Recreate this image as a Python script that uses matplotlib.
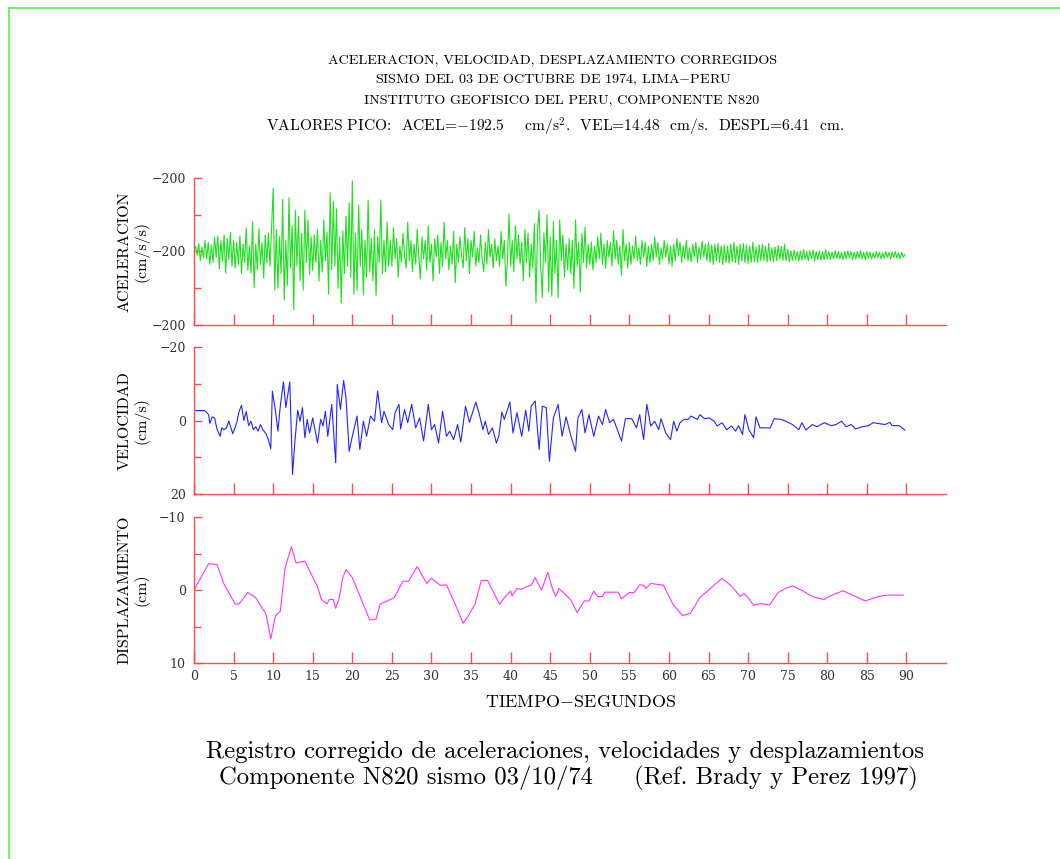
import numpy as np
import matplotlib
matplotlib.use("Agg")
import matplotlib.pyplot as plt
from matplotlib.lines import Line2D

plt.rcParams['mathtext.fontset'] = 'cm'
plt.rcParams['axes.unicode_minus'] = False

# aceleracion, muestreada cada 0.2 s (cm/s/s), eje invertido
dt_acel = 0.2
acel = [
    0, -15, 10, -22, 25, -12, 18, -30, 20, -25, 35, -18, 30, -38, 15, -42, 48, -30, 25, -45, 58, -35, 22, -52, 40,
    -30, 45, -25, 35, -42, 60, -20, 30, -65, 52, -15, 58, -82, 98, -20, 50, -62, 35, -25, 72, -45, 30, -50, 40, -68,
    -172, 105, -60, 100, -40, 60, -142, 132, -30, 92, -146, 45, -70, 158, -112, 40, -96, 80, -50, 105, -112, 30, -86, 62, -40,
    52, -45, 30, -60, 80, -30, 56, -86, 25, -52, 116, -160, 50, -136, 40, -116, 100, -40, 140, -56, 60, -96, 40, -132, 70,
    -192, 116, -50, 106, -126, 40, -60, 118, -30, 70, -140, 56, -36, 80, -60, 120, -40, 30, -140, 60, -30, 56, -80, 40, -30,
    40, -65, 20, -35, 70, -15, 30, -50, 10, 45, -80, 25, -30, 55, -20, 35, -60, 15, 75, -40, 20, -30, 50, -70, 30,
    -20, 80, -35, 15, -45, 60, -25, 40, -80, 20, -30, 50, -15, 35, -55, 85, -20, 30, -40, 10, 45, -65, 25, -35, 60,
    -30, 15, -55, 40, -10, 30, -45, 20, 55, -25, 35, -60, 15, -20, 45, -35, 25, -15, 40, -55, 20, -30, 95, 20, -102,
    40, -30, 55, -70, 20, -45, 35, -25, 80, -60, 30, -50, 70, -20, 45, -76, 140, -60, -112, 40, 126, -50, 30, -100, 110,
    -40, 122, -82, 60, -30, 126, -86, 25, -45, 70, -20, 50, -35, 60, -30, 100, -86, 40, -25, 110, -50, 30, -66, 45, -20,
    36, -26, 50, -15, 30, -40, 20, -50, 35, -20, 45, -30, 15, -25, 40, -56, 20, -30, 35, -15, 65, -60, 25, -20, 45,
    -25, 35, -15, 20, -42, 25, -10, 35, -30, 15, -25, 40, -15, 30, -20, 25, -40, 15, -25, 35, -10, 20, -30, 15, -20,
    35, -15, 40, -20, 25, -35, 10, -25, 30, -15, 20, -30, 25, -10, 28, -20, 15, -25, 30, -12, 20, -28, 15, -20, 25,
    -25, 30, -18, 35, -20, 25, -22, 30, -15, 35, -18, 30, -15, 32, -20, 28, -25, 30, -15, 35, -20, 25, -22, 30, -18,
    32, -15, 30, -25, 28, -12, 30, -18, 25, -20, 24, -15, 28, -22, 26, -10, 28, -12, 25, -16, 20, -14, 24, -20, 25,
    -6, 28, -2, 25, -4, 22, 0, 26, -2, 24, -5, 22, 0, 25, -2, 20, -4, 26, 0, 22, -2, 24, 0, 22, -5,
    20, 0, 22, 2, 20, -2, 18, 0, 20, 2, 22, 0, 20, -2, 18, 0, 22, 2, 20, 0, 18, -2, 20, 2, 22,
    0, 18, 2, 20, 4, 18, 0, 16, 2, 20, 4, 18, 0, 16, 2, 20, 2, 16, 0, 18, 4, 20, 2, 16, 8,
]

# velocidad (cm/s)
t_vel = [0, 1.35, 1.85, 2.0, 2.3, 2.6, 2.9, 3.3, 3.5, 3.8, 4.1, 4.4, 4.9, 5.4, 5.7, 6.0, 6.3, 6.6, 6.9, 7.2,
         7.5, 7.8, 8.1, 8.4, 8.7, 9.1, 9.4, 9.7, 9.9, 10.3, 10.6, 10.9, 11.3, 11.6, 12.1, 12.45, 12.75, 13.1, 13.4, 13.7,
         14.0, 14.3, 14.6, 15.0, 15.4, 15.6, 16.0, 16.3, 16.6, 16.9, 17.4, 17.9, 18.1, 18.5, 18.9, 19.2, 19.6, 20.0, 20.6, 20.95,
         21.4, 21.8, 22.3, 22.8, 23.2, 23.7, 24.0, 24.6, 25.1, 25.4, 25.9, 26.1, 26.6, 27.0, 27.5, 28.0, 28.5, 29.0, 29.6, 30.0,
         30.4, 30.9, 31.4, 31.9, 32.3, 32.8, 33.3, 33.7, 34.3, 34.8, 35.6, 36.0, 36.5, 36.8, 37.2, 37.7, 38.2, 38.5, 38.9, 39.2,
         39.9, 40.3, 40.8, 41.4, 41.9, 42.3, 42.6, 43.1, 43.6, 44.0, 44.5, 44.9, 45.4, 46.0, 46.5, 47.0, 47.6, 48.2, 48.5, 49.0,
         49.4, 49.9, 50.5, 51.1, 51.6, 52.0, 52.5, 53.0, 53.4, 54.0, 54.5, 55.3, 55.9, 56.3, 56.8, 57.2, 57.7, 58.2, 58.7, 59.0,
         59.6, 60.2, 60.6, 61.0, 61.4, 61.9, 62.4, 62.8, 63.6, 63.9, 64.5, 65.1, 65.7, 66.1, 66.7, 67.3, 67.9, 68.4, 68.8, 69.3,
         69.6, 70.1, 70.7, 71.0, 71.5, 72.2, 72.8, 73.3, 74.1, 74.8, 75.6, 76.4, 76.8, 77.3, 78.1, 78.7, 79.6, 80.5, 81.1, 81.8,
         82.4, 83.0, 83.6, 84.4, 85.2, 85.8, 86.4, 87.3, 87.9, 88.2, 89.1, 89.8]
vel = [-2.7, -2.7, -1.6, 0.8, -1.0, -0.7, 2.3, 4.3, 2.0, 2.5, 2.0, 0.2, 3.6, 0.6, -2.5, -4.1, 0.0, -2.5, 1.4, 0.2,
       2.5, 1.7, 2.9, 1.1, 2.5, 3.6, 5.2, 7.7, -8.0, -2.5, 2.9, -3.9, -10.5, -3.5, -10.5, 14.7, 5.6, -2.8, 0.2, -3.5,
       4.7, -0.3, 3.4, -0.7, 3.8, 6.1, -0.3, 1.5, -2.5, 4.3, -4.4, 11.5, -9.8, -3.0, -10.9, -6.2, 8.4, 4.3, -1.2, 7.9,
       0.2, 4.3, -1.2, 0.2, -8.0, 0.6, -2.5, 1.1, 2.5, -2.1, -4.4, 2.3, -3.0, 0.6, -4.4, 2.0, -0.7, 5.6, -4.4, 2.5,
       1.1, 6.1, -2.5, 4.3, 2.9, 5.2, 1.1, 5.9, -3.9, 0.5, -5.0, -2.1, 2.5, 0.2, 3.8, 2.0, 6.1, 4.3, -2.3, -0.3,
       -5.0, 3.4, -2.1, 4.3, -2.8, 2.9, -3.9, -5.3, 7.9, -3.9, -3.5, 11.1, -0.7, -4.4, 4.3, -1.0, 4.1, 8.4, -0.7, -3.0,
       3.4, -1.6, 4.3, -1.2, 1.1, -3.0, 0.6, -0.3, 2.0, 5.6, -0.5, -0.5, 2.0, -1.6, 5.2, -4.4, 1.5, 0.2, 2.5, -0.5,
       3.4, 5.2, 0.2, 2.9, 0.6, -0.3, -0.3, -1.2, -0.3, -1.6, -0.5, -0.7, 0.2, 1.5, 0.6, 2.5, 1.5, 2.9, 1.4, 3.8,
       -1.6, 2.5, 4.7, -1.0, 2.0, 2.0, 2.0, -0.5, -0.3, 0.2, 1.1, 2.5, 0.6, 2.6, 1.1, 1.7, 0.6, 1.4, 1.1, 0.2,
       1.7, 1.1, 2.3, 1.7, 1.4, 0.6, 0.8, 1.1, 0.5, 1.4, 1.4, 2.6]

# desplazamiento (cm)
t_desp = [0, 1.85, 2.9, 3.8, 5.2, 5.7, 6.8, 7.8, 9.1, 9.7, 10.3, 10.9, 11.5, 12.3, 12.9, 14.0, 15.6, 16.1, 16.8, 17.1,
          17.6, 17.9, 18.3, 18.8, 19.2, 20.0, 22.2, 23.0, 23.5, 24.8, 25.3, 25.9, 26.4, 27.1, 28.2, 29.4, 30.0, 31.1, 31.9, 33.1,
          34.0, 34.5, 35.5, 36.3, 37.1, 38.6, 39.2, 40.0, 40.2, 40.8, 41.4, 42.0, 42.6, 43.1, 43.9, 44.7, 45.2, 45.7, 46.1, 46.9,
          47.6, 48.4, 49.3, 49.9, 50.5, 51.0, 51.6, 51.9, 53.6, 54.0, 55.0, 55.6, 56.3, 56.8, 57.1, 57.7, 59.3, 60.5, 61.7, 62.7,
          63.9, 66.7, 67.9, 69.0, 69.5, 69.9, 70.7, 71.6, 72.7, 73.8, 74.7, 75.6, 76.8, 78.1, 79.6, 80.2, 82.0, 83.6, 84.8, 86.4,
          87.6, 89.6]
desp = [0, -3.6, -3.5, -0.8, 1.95, 1.9, 0.35, 1.05, 3.3, 6.7, 3.5, 2.9, -3.0, -5.9, -3.7, -3.95, -0.45, 1.3, 1.9, 1.3,
        1.3, 2.5, 1.3, -1.7, -2.8, -1.7, 4.1, 4.0, 1.95, 1.3, 1.05, -0.2, -1.2, -1.2, -3.2, -0.9, -1.6, -0.65, -0.7, 2.2,
        4.55, 3.8, 1.95, -1.3, -1.3, 1.95, 1.05, 0.15, 0.8, -0.2, -0.1, -0.45, -0.65, -1.7, 0.0, -2.4, -0.45, 0.9, -0.2, 0.6,
        1.35, 3.1, 1.5, 1.5, 0.15, 0.9, 0.9, 0.3, 0.3, 1.2, 0.35, 0.35, -0.7, -0.65, -0.2, -0.9, -0.65, 1.95, 3.5, 3.2,
        1.05, -1.6, -0.55, 0.9, 0.45, 0.9, 2.1, 1.85, 2.05, 0.35, -0.2, -0.55, 0.05, 0.9, 1.3, 0.9, 0.1, 0.9, 1.5, 0.9,
        0.7, 0.7]

x_ticks = list(range(0, 95, 5))
RED = '#ff4d4d'
SERIF = 'cmr10'

fig = plt.figure(figsize=(10.6, 8.59), dpi=100)

# marco verde de la pagina
fig.add_artist(Line2D([9/1060, 1.0], [1 - 8/859, 1 - 8/859], color='#55ee55', lw=1.2))
fig.add_artist(Line2D([9/1060, 9/1060], [0, 1 - 8/859], color='#55ee55', lw=1.2))

fig.text(0.521, 1 - 60/859, 'ACELERACION, VELOCIDAD, DESPLAZAMIENTO CORREGIDOS',
         ha='center', va='center', family=SERIF, fontsize=10.2)
fig.text(0.522, 1 - 80/859, 'SISMO DEL 03 DE OCTUBRE DE 1974, LIMA$-$PERU',
         ha='center', va='center', family=SERIF, fontsize=10.2)
fig.text(0.530, 1 - 100/859, 'INSTITUTO GEOFISICO DEL PERU, COMPONENTE N820',
         ha='center', va='center', family=SERIF, fontsize=10.2)
fig.text(0.524, 1 - 127/859,
         'VALORES PICO:  ACEL=$-$192.5    cm/s$^2$.  VEL=14.48  cm/s.  DESPL=6.41  cm.',
         ha='center', va='center', family=SERIF, fontsize=11.2)

left, width = 194/1060, 752/1060
panels = [
    (178, 325, np.arange(len(acel)) * dt_acel, acel, '#1ee01e', 200,
     ['\u2212200', '\u2212200', '\u2212200'], 'ACELERACION\n(cm/s/s)'),
    (347, 494, t_vel, vel, '#2424ff', 20,
     ['\u221220', '0', '20'], 'VELOCIDAD\n(cm/s)'),
    (517, 663, t_desp, desp, '#ff33ff', 10,
     ['\u221210', '0', '10'], 'DISPLAZAMIENTO\n(cm)'),
]

for i, (top, bot, t, y, col, lim, ylabs, ylab) in enumerate(panels):
    ax = fig.add_axes([left, 1 - bot/859, width, (bot - top)/859])
    ax.plot(t, y, color=col, lw=0.8)
    ax.set_xlim(0, 95)
    ax.set_ylim(lim, -lim)
    for s in ['top', 'right']:
        ax.spines[s].set_visible(False)
    for s in ['left', 'bottom']:
        ax.spines[s].set_color(RED)
        ax.spines[s].set_linewidth(1.0)
    ax.set_yticks([-lim, 0, lim])
    ax.set_yticklabels(ylabs, family='DejaVu Serif', fontsize=9, color='#333333')
    ax.set_yticks([-lim/2, lim/2], minor=True)
    ax.set_xticks(x_ticks)
    ax.tick_params(axis='both', which='both', direction='in', color=RED, width=1.0)
    ax.tick_params(axis='y', which='major', length=6, pad=6)
    ax.tick_params(axis='y', which='minor', length=5)
    ax.tick_params(axis='x', length=8)
    if i == 2:
        ax.set_xticklabels([str(v) for v in x_ticks], family='DejaVu Serif',
                           fontsize=9, color='#333333')
        ax.tick_params(axis='x', pad=5)
    else:
        ax.set_xticklabels([])
    ax.text(-0.0798, 0.5, ylab, transform=ax.transAxes, rotation=90,
            ha='center', va='center', family=SERIF, fontsize=11.5,
            multialignment='center', linespacing=1.15)

fig.text(581/1060, 1 - 702/859, 'TIEMPO$-$SEGUNDOS', ha='center', va='center',
         family=SERIF, fontsize=13)

fig.text(565/1060, 1 - 752/859,
         'Registro corregido de aceleraciones, velocidades y desplazamientos',
         ha='center', va='center', family=SERIF, fontsize=17.8)
fig.text(568/1060, 1 - 778/859,
         'Componente N820 sismo 03/10/74     (Ref. Brady y Perez 1997)',
         ha='center', va='center', family=SERIF, fontsize=17.8)

fig.savefig('out.png', dpi=100, facecolor='white')
